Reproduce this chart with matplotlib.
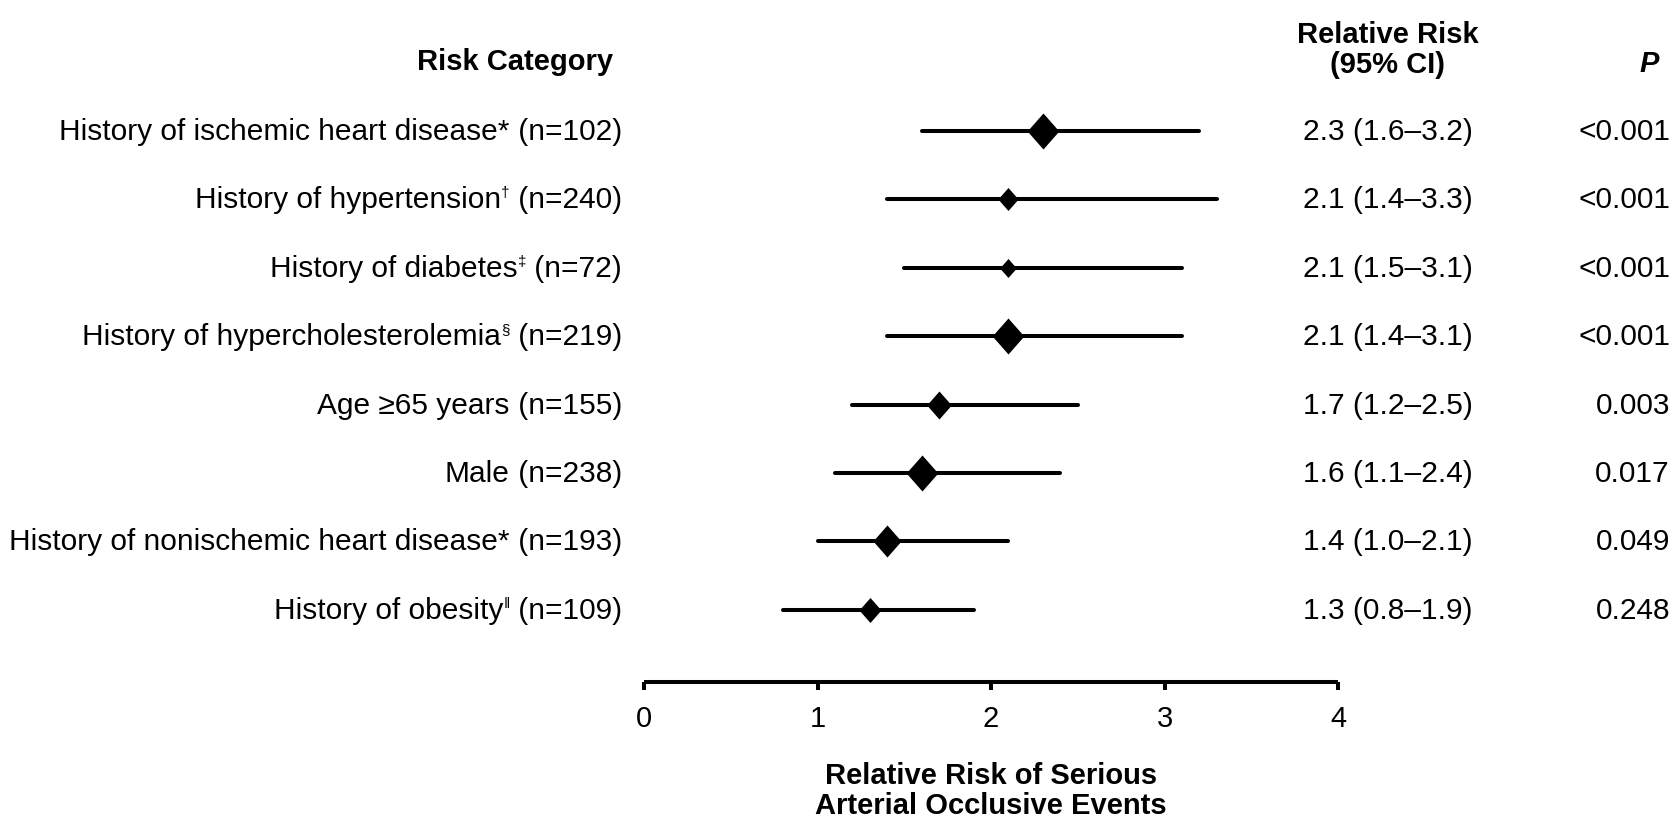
import numpy as np
import matplotlib
matplotlib.use("Agg")
import matplotlib.pyplot as plt
from matplotlib.path import Path
from matplotlib import transforms

plt.rcParams['font.family'] = ['Liberation Sans', 'DejaVu Sans']

# data
names = ['History of ischemic heart disease*', 'History of hypertension',
         'History of diabetes', 'History of hypercholesterolemia',
         'Age \u226565 years', 'Male', 'History of nonischemic heart disease*',
         'History of obesity']
marks = ['', '\u2020', '\u2021', '\u00a7', '', '', '', '\u2016']
n_pat = [102, 240, 72, 219, 155, 238, 193, 109]
rr = [2.3, 2.1, 2.1, 2.1, 1.7, 1.6, 1.4, 1.3]
lo = [1.6, 1.4, 1.5, 1.4, 1.2, 1.1, 1.0, 0.8]
hi = [3.2, 3.3, 3.1, 3.1, 2.5, 2.4, 2.1, 1.9]
pvals = ['<0.001', '<0.001', '<0.001', '<0.001', '0.003', '0.017', '0.049', '0.248']

# diamond heights in pixels (drawn size in the figure)
marker_h = [36, 23, 19, 36, 28, 36, 32, 25]

W, H = 1677, 820
fig = plt.figure(figsize=(W / 100, H / 100), dpi=100)

# axes: x=0 at 644px, x=4 at 1338px
row_gap = 68.4
top_row = 132
y_lo, y_hi = 0.5, 9.05
ax_top = top_row - (1 - y_lo) * row_gap
ax_bot = top_row + (y_hi - 1) * row_gap
ax = fig.add_axes([644 / W, 1 - ax_bot / H, (1338 - 644) / W, (ax_bot - ax_top) / H])
ax.set_xlim(0, 4)
ax.set_ylim(y_hi, y_lo)

diamond = Path([(0, 1), (0.88, 0), (0, -1), (-0.88, 0), (0, 1)],
               [Path.MOVETO, Path.LINETO, Path.LINETO, Path.LINETO, Path.CLOSEPOLY])

ypos = np.arange(1, len(rr) + 1)
for i in range(len(rr)):
    ax.plot([lo[i], hi[i]], [ypos[i], ypos[i]], color='black', lw=2.9,
            solid_capstyle='round')
    ax.plot(rr[i], ypos[i], marker=diamond, color='black',
            markersize=marker_h[i] * 0.72, markeredgewidth=0)

for s in ['left', 'top', 'right']:
    ax.spines[s].set_visible(False)
ax.spines['bottom'].set_linewidth(2.9)
ax.spines['bottom'].set_capstyle('butt')
ax.set_yticks([])
ax.set_xticks([0, 1, 2, 3, 4])
ax.tick_params(axis='x', direction='out', length=6, width=2.9, pad=10,
               labelsize=21)
ax.patch.set_alpha(0)

fs = 21.5
trans = transforms.blended_transform_factory(fig.transFigure, ax.transData)
fig.canvas.draw()
renderer = fig.canvas.get_renderer()

# row labels built right to left so the small marks sit in between
for i in range(len(names)):
    x = 622
    t = fig.text(x / W, ypos[i], ' (n=%d)' % n_pat[i], ha='right', va='center',
                 fontsize=fs, transform=trans)
    x = t.get_window_extent(renderer).x0
    if marks[i]:
        up = transforms.offset_copy(trans, fig=fig, y=7, units='dots')
        t = fig.text(x / W, ypos[i], marks[i], ha='right', va='center',
                     fontsize=11, transform=up)
        x = t.get_window_extent(renderer).x0
    fig.text(x / W, ypos[i], names[i], ha='right', va='center',
             fontsize=fs, transform=trans)

    fig.text(1388 / W, ypos[i], '%.1f (%.1f\u2013%.1f)' % (rr[i], lo[i], hi[i]),
             ha='center', va='center', fontsize=fs, transform=trans)
    fig.text(1670 / W, ypos[i], pvals[i], ha='right', va='center',
             fontsize=fs, transform=trans)

# headers
fig.text(613 / W, 1 - 62 / H, 'Risk Category', ha='right', va='center',
         fontsize=21, fontweight='bold')
fig.text(1388 / W, 1 - 50 / H, 'Relative Risk\n(95% CI)', ha='center', va='center',
         fontsize=21, fontweight='bold', linespacing=1.05)
fig.text(1649 / W, 1 - 64 / H, 'P', ha='center', va='center',
         fontsize=21, fontweight='bold', fontstyle='italic')

fig.text(991 / W, 1 - 791 / H, 'Relative Risk of Serious\nArterial Occlusive Events',
         ha='center', va='center', fontsize=21, fontweight='bold', linespacing=1.1)

fig.savefig('out.png', dpi=100)
